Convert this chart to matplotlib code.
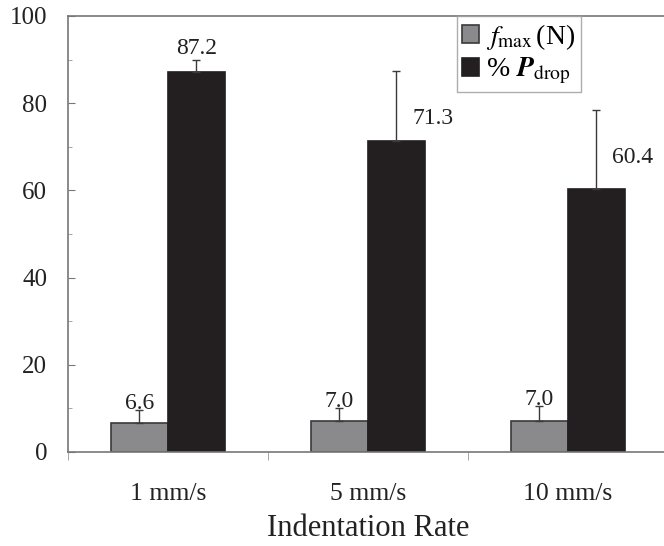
import matplotlib.pyplot as plt
import numpy as np

plt.rcParams['font.family'] = 'Liberation Serif'
plt.rcParams['mathtext.fontset'] = 'stix'

rates = ['1 mm/s', '5 mm/s', '10 mm/s']
fmax = [6.6, 7.0, 7.0]
fmax_err = [3.0, 3.1, 3.5]
pdrop = [87.2, 71.3, 60.4]
pdrop_err = [2.7, 16.1, 18.0]

fig = plt.figure(figsize=(6.64, 5.46), dpi=100)
ax = fig.add_axes([0.1024, 0.1722, 0.9036, 0.7985])

x = np.arange(len(rates))
w = 0.285
ax.bar(x - w/2, fmax, w, color='#8a8a8c', edgecolor='#3a3a3a', linewidth=1.2,
       yerr=[np.zeros(3), fmax_err], capsize=3,
       error_kw=dict(ecolor='#3a3a3a', elinewidth=1, capthick=1),
       label=r'$\mathit{f}_{\mathrm{max}}\,$(N)')
ax.bar(x + w/2, pdrop, w, color='#231f20', edgecolor='#231f20', linewidth=1.2,
       yerr=[np.zeros(3), pdrop_err], capsize=3,
       error_kw=dict(ecolor='#3a3a3a', elinewidth=1, capthick=1),
       label=r'% $\boldsymbol{P}_{\mathrm{drop}}$')

# value labels
for i in range(3):
    ax.annotate('%.1f' % fmax[i], (x[i] - w/2, fmax[i] + fmax_err[i]),
                xytext=(0, -3), textcoords='offset points',
                ha='center', va='bottom', fontsize=17, color='#222222')
ax.annotate('%.1f' % pdrop[0], (x[0] + w/2, pdrop[0] + pdrop_err[0]),
            xytext=(0, 1), textcoords='offset points',
            ha='center', va='bottom', fontsize=17, color='#222222')
for i in (1, 2):
    ax.annotate('%.1f' % pdrop[i], (x[i] + w/2, pdrop[i]),
                xytext=(26, 9 if i == 1 else 15), textcoords='offset points',
                ha='center', va='bottom', fontsize=17, color='#222222')

ax.set_xlim(-0.5, 2.5)
ax.set_ylim(0, 100)
ax.set_yticks(range(0, 101, 20))
ax.set_yticks(range(10, 100, 20), minor=True)
ax.tick_params(axis='y', which='major', direction='in', length=5, labelsize=18,
               color='#777777', pad=15, labelcolor='#222222')
ax.tick_params(axis='y', which='minor', direction='in', length=3, color='#999999')
ax.set_xticks(x)
ax.set_xticklabels(rates, fontsize=18.5, color='#222222')
ax.set_xticks([-0.5, 0.5, 1.5, 2.5], minor=True)
ax.tick_params(axis='x', which='major', length=0, pad=22)
ax.tick_params(axis='x', which='minor', direction='out', length=6, color='#999999')
ax.set_xlabel('Indentation Rate', fontsize=22, labelpad=7, color='#222222')

for s in ['left', 'bottom', 'top']:
    ax.spines[s].set_color('#777777')
    ax.spines[s].set_linewidth(1.2)
ax.spines['right'].set_visible(False)

leg = ax.legend(loc='upper left', bbox_to_anchor=(0.648, 1.0), fontsize=20,
                frameon=True, fancybox=False, edgecolor='#999999',
                handlelength=0.6, handleheight=0.6, handletextpad=0.25,
                borderpad=0.2, labelspacing=0.15, borderaxespad=0)
leg.get_frame().set_linewidth(1)

fig.savefig('out.png', dpi=100)
